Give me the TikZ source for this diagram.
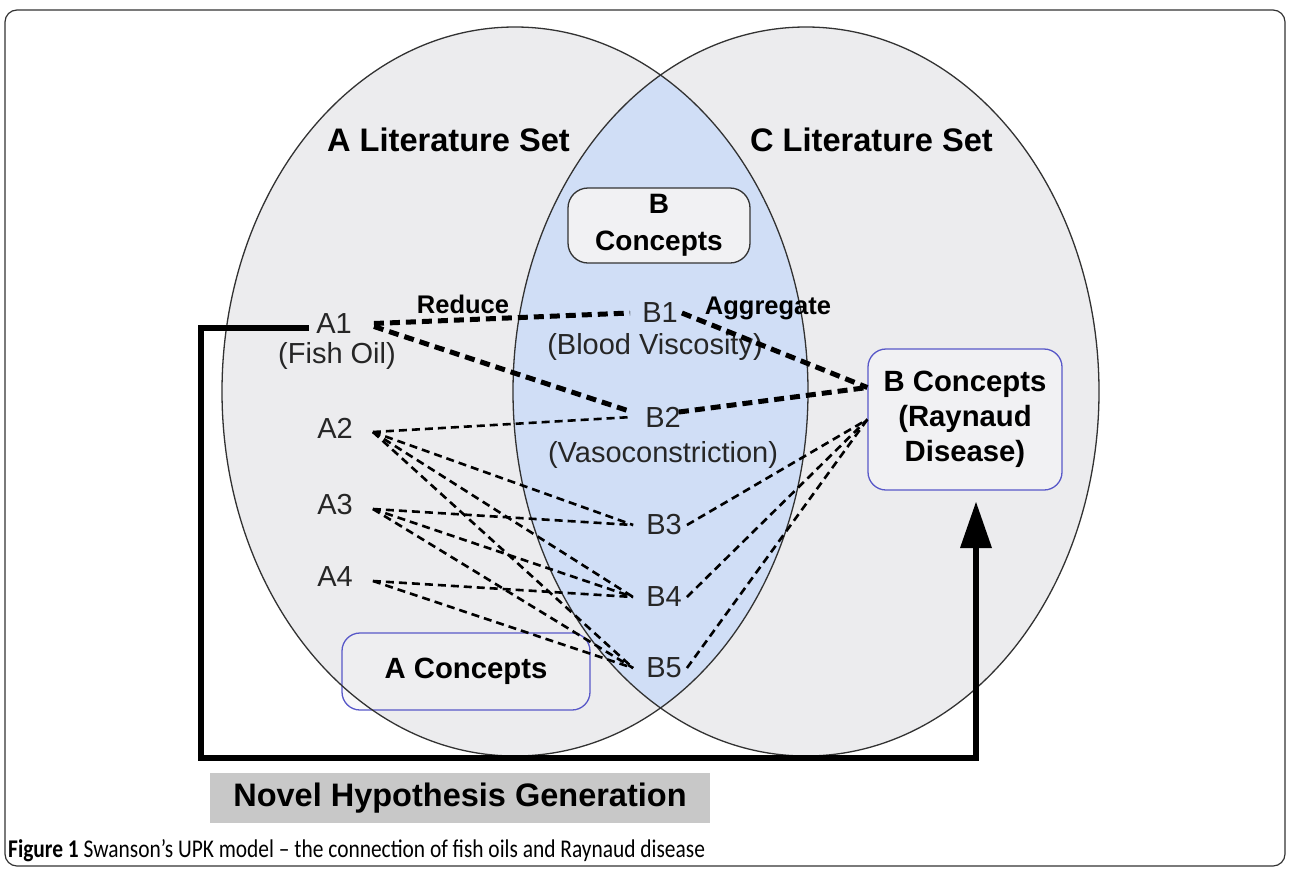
\documentclass[tikz,border=0pt]{standalone}
\usepackage{fontspec}
\setmainfont{Liberation Sans}
\newfontfamily\capfont[FakeStretch=0.84]{Carlito}
\usetikzlibrary{arrows.meta}
\definecolor{setfill}{RGB}{236,236,238}
\definecolor{lensfill}{RGB}{208,222,246}
\definecolor{setline}{RGB}{50,50,50}
\definecolor{boxblue}{RGB}{88,88,200}
\definecolor{boxfill}{RGB}{241,241,243}
\definecolor{novelfill}{RGB}{200,200,200}
\begin{document}
\begin{tikzpicture}[x=1pt,y=-1pt,
  lbl/.style={font=\fontsize{29}{34}\selectfont, inner sep=0pt, text=black!85},
  blbl/.style={font=\bfseries\fontsize{25.5}{30}\selectfont, inner sep=0pt},
  title/.style={font=\bfseries\fontsize{32.6}{38}\selectfont, inner sep=0pt},
  bluebox/.style={draw=boxblue, line width=1.3pt, rounded corners=18pt, align=center, font=\bfseries\fontsize{29.3}{35}\selectfont},
  thickdash/.style={line width=5pt, dash pattern=on 10pt off 6pt},
  thindash/.style={line width=2.6pt, dash pattern=on 8pt off 5pt},
  feedback/.style={line width=6pt, line join=miter},
  setshape/.style={x radius=293pt, y radius=364.5pt}
]
\useasboundingbox (0,0) rectangle (1290,868);
% frame
\draw[setline, line width=1.2pt, rounded corners=12pt] (5,10) rectangle (1285,866);
% ellipses
\coordinate (LA) at (515,391.5);
\coordinate (LC) at (806,391.5);
\fill[setfill] (LA) ellipse [setshape];
\fill[setfill] (LC) ellipse [setshape];
\begin{scope}
  \clip (LA) ellipse [setshape];
  \fill[lensfill] (LC) ellipse [setshape];
\end{scope}
% titles
\node[title] (ALit) at (448.5,140) {A Literature Set};
\node[title] (CLit) at (871.5,140) {C Literature Set};
% boxes
\node[draw=black!80, line width=1.3pt, fill=boxfill, rounded corners=20pt, minimum width=182pt, minimum height=75pt, align=center, font=\bfseries\fontsize{28}{37}\selectfont] (Bc) at (659,225.5) {B\\Concepts};
\node[bluebox, fill=boxfill, minimum width=194pt, minimum height=141pt] (R) at (965,419.5) {B Concepts\\(Raynaud\\Disease)};
\node[bluebox, fill=boxfill, fill opacity=0.5, text opacity=1, minimum width=248pt, minimum height=77pt] (AC) at (466,671.5) {A Concepts};
\draw[setline, line width=1.3pt] (LA) ellipse [setshape];
\draw[setline, line width=1.3pt] (LC) ellipse [setshape];
\node[fill=novelfill, minimum width=500pt, minimum height=50pt, inner sep=0pt, font=\bfseries\fontsize{32.5}{38}\selectfont] (NH) at (460,798) {Novel Hypothesis Generation};
% labels
\node[lbl] (A1) at (334,323.5) {A1};
\node[lbl] (FO) at (337,356) {(Fish Oil)};
\node[lbl] (A2) at (335,428) {A2};
\node[lbl] (A3) at (335,505) {A3};
\node[lbl] (A4) at (335,577) {A4};
\node[lbl] (B1) at (660,313) {B1};
\node[lbl] (BV) at (655,347) {(Blood Viscosity)};
\node[lbl] (B2) at (663,417) {B2};
\node[lbl] (VC) at (663,455) {(Vasoconstriction)};
\node[lbl] (B3) at (664,525) {B3};
\node[lbl] (B4) at (664,597) {B4};
\node[lbl] (B5) at (664,668) {B5};
\node[blbl] (Red) at (463,304) {Reduce};
\node[blbl] (Agg) at (768,308) {Aggregate};
% thick dashed
\draw[thickdash] ([xshift=22pt]A1.east) -- ([xshift=-12pt]B1.west);
\draw[thickdash] ([xshift=22pt,yshift=-3pt]A1.east) -- ([xshift=-16pt,yshift=6pt]B2.west);
\draw[thickdash] ([xshift=4pt]B1.east) -- ([yshift=32pt]R.west);
\draw[thickdash] ([xshift=-2pt,yshift=5pt]B2.east) -- ([yshift=32pt]R.west);
% thin dashed
\foreach \b in {B2,B3,B4,B5} \draw[thindash] ([xshift=20pt,yshift=-4pt]A2.east) -- ([xshift=-13pt]\b.west);
\foreach \b in {B3,B4,B5} \draw[thindash] ([xshift=20pt,yshift=-4pt]A3.east) -- ([xshift=-13pt]\b.west);
\foreach \b in {B4,B5} \draw[thindash] ([xshift=20pt,yshift=-4pt]A4.east) -- ([xshift=-13pt]\b.west);
\foreach \b in {B3,B4,B5} \draw[thindash] ([xshift=5pt]\b.east) -- (R.west);
% feedback arrow
\coordinate (c1) at (201,327.5);
\coordinate (c2) at (201,758);
\coordinate (c3) at (976,758);
\coordinate (tip) at (976,502);
\draw[feedback] ([xshift=-7pt,yshift=-4pt]A1.west) -- (c1) -- (c2) -- (c3) -- ([yshift=-40pt]tip);
\fill (tip) -- ++(-16,46) -- ++(32,0) -- cycle;
% caption
\node[anchor=base west, inner sep=0pt, font=\capfont\fontsize{25.5}{30}\selectfont] (cap) at (8,857) {\textbf{Figure 1} Swanson’s UPK model – the connection of fish oils and Raynaud disease};
\end{tikzpicture}
\end{document}
